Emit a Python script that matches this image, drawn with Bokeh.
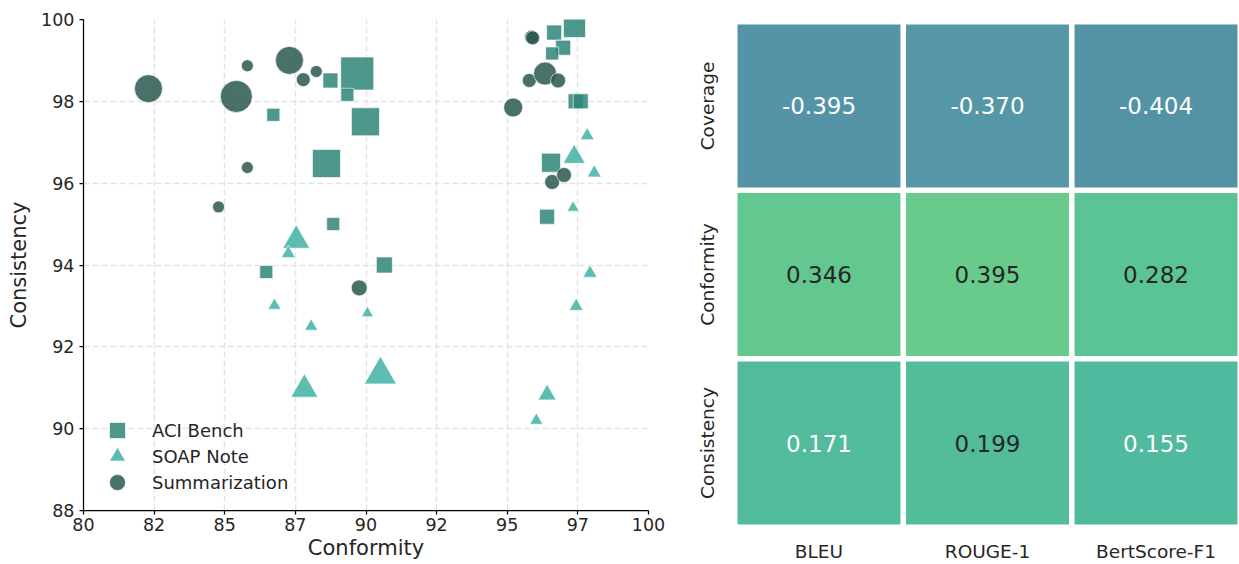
import math
from bokeh.plotting import figure
from bokeh.layouts import row, column
from bokeh.models import (ColumnDataSource, FixedTicker, Range1d, Legend, LegendItem)
from bokeh.embed import file_html
from bokeh.resources import INLINE
from bokeh.core.properties import value

FONT = "DejaVu Sans"
TXT = "#262626"

# ---------------- scatter data ----------------
aci_conformity = [86.72, 88.74, 89.69, 89.34, 89.98, 88.60, 88.84, 86.47, 90.65,
                  96.66, 97.38, 96.98, 96.59, 97.42, 97.60, 96.55, 96.41]
aci_consistency = [97.67, 98.51, 98.68, 98.16, 97.50, 96.48, 95.00, 93.83, 94.00,
                   99.68, 99.83, 99.31, 99.17, 98.00, 98.00, 96.50, 95.18]
aci_weight = [13, 15, 33, 13, 28, 28, 13, 13, 16,
              15, 22, 15, 13, 15, 15, 19, 15]

soap_conformity = [87.53, 87.25, 86.76, 88.06, 87.82, 90.05, 90.51, 96.41, 96.03,
                   97.44, 97.93, 97.83, 97.37, 98.08, 97.33]
soap_consistency = [94.60, 94.28, 93.01, 92.50, 90.96, 92.82, 91.32, 90.83, 90.20,
                    92.99, 93.80, 97.16, 96.64, 96.25, 95.40]
soap_weight = [27, 14, 13, 13, 27, 12, 32, 18, 13,
               14, 14, 14, 22, 14, 12]

summ_conformity = [82.30, 85.41, 85.80, 85.80, 84.78, 87.29, 87.78, 88.24, 89.76,
                   95.21, 95.78, 96.34, 96.80, 95.86, 95.90, 96.59, 97.01]
summ_consistency = [98.31, 98.12, 98.87, 96.38, 95.42, 99.00, 98.53, 98.73, 93.44,
                    97.85, 98.51, 98.68, 98.51, 99.57, 99.55, 96.03, 96.20]
summ_weight = [28, 32, 12, 12, 12, 28, 14, 12, 16,
               19, 14, 23, 15, 14, 14, 15, 15]

x_ticks = [80, 82.5, 85, 87.5, 90, 92.5, 95, 97.5, 100]
y_ticks = [88, 90, 92, 94, 96, 98, 100]

# ---------------- heatmap data ----------------
metrics = ["BLEU", "ROUGE-1", "BertScore-F1"]
criteria = ["Coverage", "Conformity", "Consistency"]
corr = [[-0.395, -0.370, -0.404],
        [0.346, 0.395, 0.282],
        [0.171, 0.199, 0.155]]

# ---------------- scatter figure ----------------
p = figure(frame_width=565, frame_height=491, x_range=Range1d(80, 100), y_range=Range1d(88, 100),
           output_backend="svg", toolbar_location=None,
           min_border_left=83, min_border_right=20, min_border_top=19, min_border_bottom=54)
p.outline_line_color = None

alpha = 0.85
r_aci = p.scatter(aci_conformity, aci_consistency, size=aci_weight, marker="square",
                  fill_color="#2e8578", fill_alpha=alpha, line_color="white", line_width=0.8, line_alpha=0.8)
r_soap = p.scatter(soap_conformity, soap_consistency, size=soap_weight, marker="triangle",
                   fill_color="#41b2a3", fill_alpha=alpha, line_color="white", line_width=0.8, line_alpha=0.8)
r_summ = p.scatter(summ_conformity, summ_consistency, size=summ_weight, marker="circle",
                   fill_color="#2a584f", fill_alpha=alpha, line_color="white", line_width=0.8, line_alpha=0.8)

p.xaxis.ticker = FixedTicker(ticks=x_ticks)
p.xaxis.major_label_overrides = {float(t): str(int(t)) for t in x_ticks}
p.yaxis.ticker = FixedTicker(ticks=y_ticks)
for ax in (p.xaxis, p.yaxis):
    ax.axis_line_color = "black"
    ax.axis_line_width = 1.25
    ax.major_tick_line_color = "black"
    ax.major_tick_line_width = 1.25
    ax.major_tick_out = 4
    ax.major_tick_in = 0
    ax.minor_tick_line_color = None
    ax.major_label_text_font = FONT
    ax.major_label_text_font_size = "17.5px"
    ax.major_label_text_color = TXT
    ax.axis_label_text_font = FONT
    ax.axis_label_text_font_size = "21px"
    ax.axis_label_text_font_style = "normal"
    ax.axis_label_text_color = TXT
p.xaxis.major_label_standoff = 3
p.xaxis.axis_label = "Conformity"
p.xaxis.axis_label_standoff = 2
p.yaxis.major_label_standoff = 5
p.yaxis.axis_label = "Consistency"
p.yaxis.axis_label_standoff = 7

p.grid.grid_line_color = "#e4e4e4"
p.grid.grid_line_width = 1.5
p.grid.grid_line_dash = "6 3"

# one legend per entry so that the rows can be closer than the glyph box
legend_entries = [("ACI Bench", r_aci, 60), ("SOAP Note", r_soap, 34), ("Summarization", r_summ, 8)]
for lab, rend, ly in legend_entries:
    lg = Legend(items=[LegendItem(label=lab, renderers=[rend])],
                location=(14, ly), glyph_width=40, glyph_height=40, spacing=0, padding=0, margin=0,
                label_standoff=15, label_text_font=FONT, label_text_font_size="18px",
                label_text_color=TXT, background_fill_alpha=0, border_line_alpha=0)
    p.add_layout(lg)

# ---------------- heatmap figure (frame fills the canvas) ----------------
pitch = 168.5  # px per cell
lo, hi = 0.0165, 2.9835
h = figure(frame_width=571, frame_height=564,
           x_range=Range1d(lo - 69 / pitch, hi + 2 / pitch),
           y_range=Range1d(lo - 40 / pitch, hi + 24 / pitch),
           output_backend="svg", toolbar_location=None, min_border=0)
h.outline_line_color = None
h.grid.visible = False
h.xaxis.visible = False
h.yaxis.visible = False

def hexrgb(c):
    return [int(c[i:i + 2], 16) for i in (1, 3, 5)]

anchors = [(-0.404, "#5493a6"), (-0.370, "#5597a6"), (0.155, "#4fba9d"), (0.282, "#5bc496"), (0.395, "#68cb8c")]

def cmap(v):
    for (a, ca), (b, cb) in zip(anchors[:-1], anchors[1:]):
        if a <= v <= b:
            t = (v - a) / (b - a)
            A, B = hexrgb(ca), hexrgb(cb)
            return "#%02x%02x%02x" % tuple(round(A[k] + (B[k] - A[k]) * t) for k in range(3))
    return anchors[0][1] if v < anchors[0][0] else anchors[-1][1]

xs, ys, fills, tcols, txt = [], [], [], [], []
for i, crit in enumerate(criteria):
    for j, m in enumerate(metrics):
        v = corr[i][j]
        xs.append(j + 0.5)
        ys.append(len(criteria) - 1 - i + 0.5)
        fills.append(cmap(v))
        tcols.append(TXT if v > 0.18 else "white")
        txt.append("%.3f" % v)

src = ColumnDataSource(dict(x=xs, y=ys, fill=fills, tc=tcols, t=txt))
h.rect(x="x", y="y", width=0.967, height=0.967, source=src, fill_color="fill", line_color=None)
h.text(x="x", y="y", text="t", source=src, text_color="tc", text_align="center", text_baseline="middle",
       text_font=value(FONT), text_font_size="23px")

row_src = ColumnDataSource(dict(x=[lo - 30 / pitch] * 3,
                                y=[len(criteria) - 1 - i + 0.5 for i in range(len(criteria))],
                                t=criteria))
h.text(x="x", y="y", text="t", source=row_src, angle=math.pi / 2, text_align="center",
       text_baseline="middle", text_color=TXT, text_font=value(FONT), text_font_size="18.5px")
col_src = ColumnDataSource(dict(x=[j + 0.5 for j in range(len(metrics))],
                                y=[lo - 27 / pitch] * 3, t=metrics))
h.text(x="x", y="y", text="t", source=col_src, text_align="center", text_baseline="middle",
       text_color=TXT, text_font=value(FONT), text_font_size="18.5px")

layout = row(p, column(h))
open("out.html", "w").write(file_html(layout, INLINE))
